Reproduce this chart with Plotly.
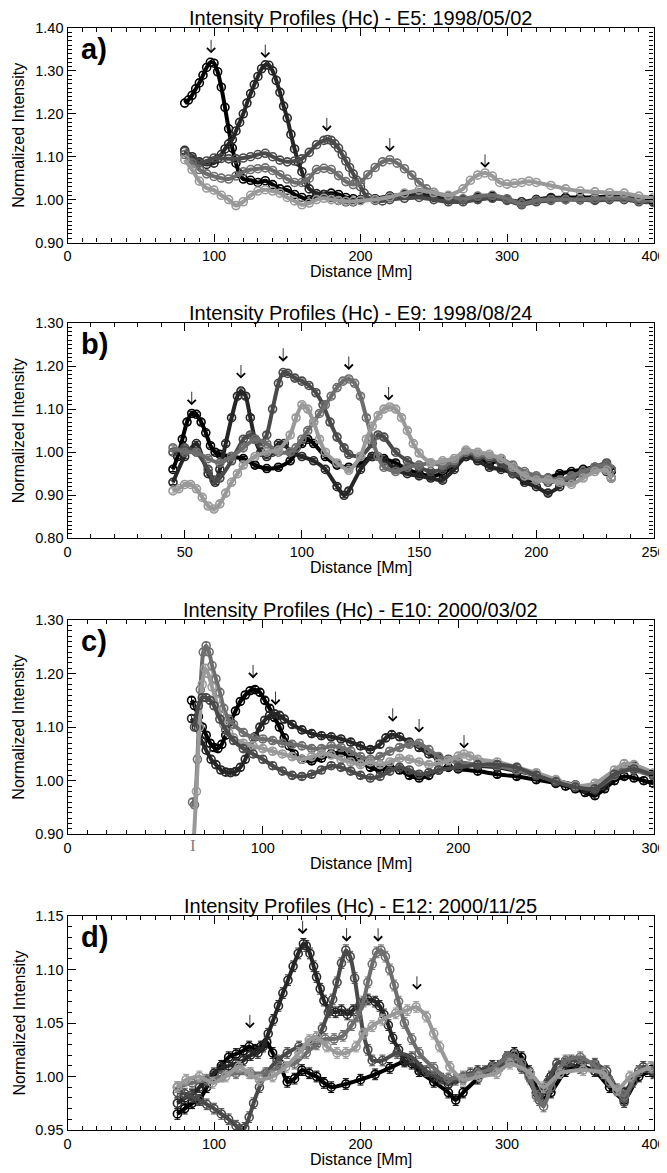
import plotly.graph_objects as go

FONT = 'Liberation Sans, Arial, Helvetica, sans-serif'

#%% Panel a) E5 1998/05/02
a1_x = [80, 82.5, 85, 87.5, 90, 92.5, 95, 97.5, 100, 102.5,
        105, 107.5, 110, 112.5, 115, 117.5, 120, 125, 130, 135,
        140, 145, 150, 155, 160, 165, 170, 175, 180, 185,
        190, 195, 200, 210, 220, 230, 240, 250, 260, 270,
        280, 290, 300, 310, 320, 330, 340, 350, 360, 370,
        380, 390, 400]
a1_y = [1.225, 1.232, 1.243, 1.258, 1.272, 1.290, 1.308, 1.320, 1.318, 1.298,
        1.262, 1.215, 1.165, 1.120, 1.085, 1.060, 1.048, 1.045, 1.040, 1.044,
        1.035, 1.025, 1.022, 1.012, 1.005, 1.000, 1.008, 1.012, 1.015, 1.012,
        1.005, 1.002, 1.000, 1.002, 1.008, 1.012, 1.015, 1.010, 1.000, 1.000,
        1.005, 1.008, 1.000, 0.990, 1.000, 1.003, 1.005, 1.005, 1.005, 1.008,
        1.005, 1.000, 0.995]
a2_x = [80, 85, 90, 95, 100, 102.5, 105, 107.5, 110, 112.5,
        115, 117.5, 120, 122.5, 125, 127.5, 130, 132.5, 135, 137.5,
        140, 142.5, 145, 147.5, 150, 152.5, 155, 157.5, 160, 162.5,
        165, 170, 175, 180, 185, 190, 195, 200, 210, 220,
        230, 240, 250, 260, 270, 280, 290, 300, 310, 320,
        330, 340, 350, 360, 370, 380, 390, 400]
a2_y = [1.115, 1.100, 1.088, 1.082, 1.085, 1.095, 1.105, 1.118, 1.130, 1.140,
        1.160, 1.180, 1.200, 1.225, 1.247, 1.268, 1.287, 1.305, 1.314, 1.313,
        1.300, 1.278, 1.250, 1.218, 1.190, 1.152, 1.118, 1.088, 1.065, 1.040,
        1.025, 1.014, 1.012, 1.005, 0.998, 0.995, 0.995, 0.998, 1.000, 1.005,
        1.010, 1.012, 1.005, 1.000, 1.000, 1.003, 1.005, 1.000, 0.995, 1.000,
        1.005, 1.003, 1.000, 1.000, 1.005, 1.005, 1.000, 0.998]
a3_x = [80, 85, 90, 95, 100, 105, 110, 115, 120, 125,
        130, 135, 140, 145, 150, 155, 160, 165, 170, 175,
        177.5, 180, 182.5, 185, 187.5, 190, 192.5, 195, 197.5, 200,
        202.5, 205, 210, 215, 220, 230, 240, 250, 260, 270,
        280, 290, 300, 310, 320, 330, 340, 350, 360, 370,
        380, 390, 400]
a3_y = [1.112, 1.095, 1.085, 1.090, 1.097, 1.096, 1.095, 1.095, 1.097, 1.100,
        1.105, 1.108, 1.100, 1.092, 1.088, 1.090, 1.095, 1.110, 1.128, 1.138,
        1.140, 1.138, 1.130, 1.120, 1.105, 1.090, 1.075, 1.060, 1.045, 1.030,
        1.015, 1.005, 0.998, 0.997, 1.000, 1.003, 1.005, 1.000, 0.995, 0.995,
        1.000, 1.003, 0.998, 0.988, 0.995, 0.998, 1.000, 1.000, 0.998, 1.000,
        1.000, 0.995, 0.993]
a4_x = [80, 85, 90, 95, 100, 105, 110, 115, 120, 125,
        130, 135, 140, 145, 150, 155, 160, 165, 170, 175,
        180, 185, 190, 195, 200, 205, 210, 215, 220, 225,
        230, 235, 240, 245, 250, 260, 270, 280, 290, 300,
        310, 320, 330, 340, 350, 360, 370, 380, 390, 400]
a4_y = [1.105, 1.085, 1.070, 1.060, 1.054, 1.050, 1.048, 1.055, 1.065, 1.070,
        1.072, 1.074, 1.068, 1.058, 1.048, 1.040, 1.040, 1.050, 1.070, 1.073,
        1.070, 1.056, 1.042, 1.035, 1.040, 1.058, 1.075, 1.088, 1.093, 1.085,
        1.072, 1.057, 1.040, 1.025, 1.017, 1.008, 1.002, 1.008, 1.010, 1.002,
        0.990, 0.998, 1.000, 1.000, 1.000, 1.002, 1.003, 1.004, 0.997, 1.000]
a5_x = [80, 85, 90, 95, 100, 105, 110, 115, 120, 125,
        130, 135, 140, 145, 150, 155, 160, 165, 170, 175,
        180, 185, 190, 195, 200, 210, 220, 230, 240, 250,
        260, 270, 275, 280, 285, 290, 295, 300, 305, 310,
        315, 320, 330, 340, 350, 360, 370, 380, 390, 400]
a5_y = [1.093, 1.070, 1.043, 1.027, 1.022, 1.010, 1.000, 0.986, 0.995, 1.010,
        1.020, 1.023, 1.020, 1.015, 1.005, 0.997, 0.988, 0.992, 1.000, 1.003,
        1.000, 0.998, 0.996, 0.996, 0.998, 1.000, 1.006, 1.015, 1.022, 1.016,
        1.010, 1.025, 1.045, 1.057, 1.062, 1.055, 1.040, 1.036, 1.038, 1.040,
        1.043, 1.040, 1.033, 1.025, 1.020, 1.018, 1.016, 1.015, 1.008, 1.005]
a_arrow_x = [98, 135, 177, 220, 285]
a_arrow_y = [1.341, 1.330, 1.159, 1.112, 1.074]

#%% Panel b) E9 1998/08/24
b1_x = [45, 47, 49, 51, 53, 55, 57, 59, 61, 63,
        65, 70, 75, 80, 85, 90, 95, 100, 102.5, 105,
        110, 115, 120, 125, 130, 135, 140, 145, 150, 155,
        160, 165, 170, 175, 180, 185, 190, 195, 200, 205,
        210, 215, 220, 225, 230, 232]
b1_y = [0.960, 0.990, 1.030, 1.070, 1.090, 1.088, 1.070, 1.045, 1.015, 1.000,
        0.995, 0.990, 0.985, 0.970, 0.962, 0.965, 0.980, 1.020, 1.030, 1.020,
        0.990, 0.970, 0.965, 0.975, 0.990, 0.985, 0.975, 0.960, 0.950, 0.945,
        0.950, 0.970, 0.990, 0.985, 0.975, 0.980, 0.960, 0.935, 0.935, 0.940,
        0.950, 0.955, 0.960, 0.965, 0.970, 0.955]
b2_x = [45, 50, 55, 60, 63, 65, 67.5, 70, 72.5, 74,
        76, 78, 80, 82.5, 85, 87.5, 90, 92.5, 95, 100,
        105, 110, 115, 118, 120, 125, 130, 135, 140, 145,
        150, 155, 160, 165, 170, 175, 180, 185, 190, 195,
        200, 205, 210, 215, 220, 225, 230, 232]
b2_y = [0.930, 0.990, 1.020, 0.950, 0.930, 0.960, 1.020, 1.080, 1.130, 1.142,
        1.130, 1.080, 1.030, 1.000, 0.990, 1.000, 1.020, 1.020, 1.000, 0.990,
        0.980, 0.960, 0.920, 0.900, 0.910, 0.960, 0.990, 0.980, 0.960, 0.950,
        0.945, 0.940, 0.935, 0.960, 0.990, 0.980, 0.965, 0.960, 0.950, 0.930,
        0.920, 0.905, 0.920, 0.940, 0.950, 0.960, 0.955, 0.940]
b3_x = [45, 50, 55, 60, 62.5, 65, 70, 75, 78, 80,
        82.5, 85, 87.5, 90, 92, 94, 97, 100, 103, 106,
        109, 112, 115, 118, 120, 125, 130, 132.5, 135, 140,
        145, 150, 155, 160, 165, 170, 175, 180, 185, 190,
        195, 200, 205, 210, 215, 220, 225, 230, 232]
b3_y = [1.000, 1.010, 1.000, 0.960, 0.935, 0.940, 0.980, 1.030, 1.040, 1.030,
        1.020, 1.040, 1.100, 1.160, 1.185, 1.183, 1.172, 1.165, 1.155, 1.138,
        1.110, 1.070, 1.035, 1.010, 0.995, 0.990, 1.020, 1.040, 1.035, 1.000,
        0.980, 0.965, 0.955, 0.960, 0.975, 1.000, 0.990, 0.985, 0.975, 0.950,
        0.945, 0.940, 0.930, 0.935, 0.940, 0.950, 0.965, 0.975, 0.960]
b4_x = [45, 50, 55, 60, 65, 70, 75, 80, 85, 90,
        95, 97.5, 100, 102.5, 105, 107.5, 110, 112.5, 115, 117.5,
        120, 122.5, 125, 127.5, 130, 132.5, 135, 140, 145, 150,
        155, 160, 165, 170, 175, 180, 185, 190, 195, 200,
        205, 210, 215, 220, 225, 230, 232]
b4_y = [1.010, 1.000, 1.000, 0.985, 0.975, 0.990, 1.010, 1.030, 1.020, 1.000,
        1.000, 1.010, 1.030, 1.050, 1.070, 1.090, 1.110, 1.130, 1.150, 1.165,
        1.170, 1.160, 1.130, 1.080, 1.030, 0.990, 0.965, 0.955, 0.965, 0.970,
        0.975, 0.970, 0.980, 1.000, 0.995, 0.990, 0.985, 0.970, 0.955, 0.945,
        0.940, 0.935, 0.945, 0.955, 0.965, 0.970, 0.960]
b5_x = [45, 47.5, 50, 52.5, 55, 57.5, 60, 62.5, 65, 67.5,
        70, 72.5, 75, 80, 85, 90, 95, 97.5, 100, 102.5,
        105, 107.5, 110, 115, 120, 125, 127.5, 130, 132.5, 135,
        137.5, 140, 142.5, 145, 147.5, 150, 155, 160, 165, 170,
        175, 180, 185, 190, 195, 200, 205, 210, 215, 220,
        225, 230, 232]
b5_y = [0.910, 0.915, 0.925, 0.925, 0.915, 0.895, 0.875, 0.868, 0.880, 0.905,
        0.930, 0.950, 0.970, 0.990, 1.000, 1.005, 1.040, 1.080, 1.110, 1.100,
        1.070, 1.030, 1.000, 0.975, 0.958, 0.990, 1.030, 1.060, 1.085, 1.100,
        1.105, 1.100, 1.080, 1.050, 1.020, 0.998, 0.975, 0.980, 0.985, 1.005,
        1.000, 0.995, 0.985, 0.965, 0.945, 0.935, 0.935, 0.930, 0.925, 0.940,
        0.955, 0.958, 0.940]
b_arrow_x = [53, 74, 92, 120, 137]
b_arrow_y = [1.109, 1.171, 1.210, 1.191, 1.120]

#%% Panel c) E10 2000/03/02
c1_x = [63.5, 65, 67, 69, 71, 73, 75, 77, 79, 81,
        83.5, 86, 88.5, 91, 93.5, 96, 98.5, 101, 103.5, 106,
        108.5, 111, 113.5, 116, 120, 125, 130, 135, 140, 145,
        150, 155, 160, 165, 170, 175, 180, 185, 190, 195,
        200, 210, 220, 230, 240, 250, 255, 260, 265, 270,
        275, 280, 285, 290, 295, 300]
c1_y = [1.150, 1.140, 1.120, 1.100, 1.085, 1.070, 1.062, 1.060, 1.068, 1.085,
        1.110, 1.130, 1.148, 1.160, 1.168, 1.170, 1.165, 1.150, 1.135, 1.118,
        1.100, 1.080, 1.065, 1.050, 1.040, 1.037, 1.042, 1.050, 1.052, 1.045,
        1.035, 1.025, 1.020, 1.025, 1.020, 1.010, 1.005, 1.010, 1.020, 1.025,
        1.022, 1.018, 1.012, 1.008, 1.002, 0.995, 0.990, 0.985, 0.978, 0.972,
        0.985, 1.000, 1.008, 1.005, 1.000, 0.995]
c2_x = [63.5, 66, 68.5, 71, 73.5, 76, 78.5, 81, 83.5, 86,
        88.5, 91, 93.5, 96, 98.5, 101, 103.5, 106, 108.5, 111,
        115, 120, 125, 130, 135, 140, 145, 150, 155, 160,
        163, 166, 170, 175, 180, 185, 190, 195, 200, 210,
        220, 230, 240, 250, 260, 265, 270, 275, 280, 285,
        290, 300]
c2_y = [1.116, 1.100, 1.075, 1.057, 1.040, 1.030, 1.020, 1.016, 1.015, 1.017,
        1.025, 1.040, 1.063, 1.082, 1.100, 1.113, 1.122, 1.125, 1.122, 1.115,
        1.105, 1.095, 1.088, 1.084, 1.082, 1.078, 1.072, 1.065, 1.058, 1.068,
        1.080, 1.086, 1.082, 1.072, 1.062, 1.050, 1.042, 1.040, 1.035, 1.028,
        1.025, 1.018, 1.010, 1.000, 0.992, 0.985, 0.982, 0.990, 1.010, 1.025,
        1.028, 1.012]
c3_x = [64, 65, 66.5, 68, 69.5, 71, 72.5, 74, 76, 78,
        80, 82.5, 85, 90, 95, 100, 105, 110, 115, 120,
        125, 130, 135, 140, 145, 150, 155, 160, 165, 170,
        175, 180, 185, 190, 195, 200, 210, 220, 230, 240,
        250, 260, 270, 280, 285, 290, 300]
c3_y = [0.960, 0.955, 1.040, 1.170, 1.240, 1.252, 1.240, 1.215, 1.190, 1.165,
        1.135, 1.115, 1.105, 1.090, 1.080, 1.078, 1.075, 1.070, 1.068, 1.065,
        1.060, 1.060, 1.065, 1.062, 1.055, 1.045, 1.040, 1.045, 1.055, 1.062,
        1.068, 1.070, 1.058, 1.045, 1.038, 1.035, 1.030, 1.028, 1.020, 1.010,
        1.000, 0.992, 0.985, 1.010, 1.022, 1.020, 1.008]
c4_x = [64.5, 66, 67.5, 69, 70.5, 72, 74, 76, 78, 80,
        82.5, 85, 90, 95, 100, 105, 110, 115, 120, 125,
        130, 135, 140, 145, 150, 155, 160, 165, 170, 175,
        180, 185, 190, 195, 200, 203, 206, 210, 220, 230,
        240, 250, 260, 270, 280, 285, 290, 300]
c4_y = [0.880, 0.980, 1.100, 1.180, 1.210, 1.200, 1.175, 1.150, 1.125, 1.105,
        1.090, 1.080, 1.070, 1.065, 1.060, 1.055, 1.050, 1.045, 1.040, 1.045,
        1.050, 1.048, 1.040, 1.035, 1.030, 1.035, 1.030, 1.035, 1.042, 1.040,
        1.035, 1.030, 1.032, 1.038, 1.046, 1.050, 1.046, 1.040, 1.035, 1.025,
        1.015, 1.002, 0.990, 0.995, 1.020, 1.032, 1.030, 1.015]
c5_x = [65, 67, 69, 71, 73, 75, 78, 81, 85, 90,
        95, 100, 105, 110, 115, 120, 125, 130, 135, 140,
        145, 150, 155, 160, 165, 170, 175, 180, 185, 190,
        200, 210, 220, 230, 240, 250, 260, 270, 280, 290,
        300]
c5_y = [1.100, 1.140, 1.155, 1.155, 1.150, 1.140, 1.115, 1.095, 1.075, 1.060,
        1.050, 1.040, 1.028, 1.018, 1.010, 1.008, 1.012, 1.020, 1.028, 1.025,
        1.018, 1.010, 1.005, 1.008, 1.018, 1.025, 1.020, 1.012, 1.015, 1.020,
        1.025, 1.030, 1.030, 1.025, 1.010, 0.998, 0.988, 0.985, 1.012, 1.022,
        1.010]
c_arrow_x = [95, 106.5, 166.5, 180, 203]
c_arrow_y = [1.191, 1.141, 1.110, 1.090, 1.060]
# typical error bar drawn under the axis
c_errbar_x = 64.3
c_errbar_y = 0.858

#%% Panel d) E12 2000/11/25
d1_x = [75, 80, 85, 90, 95, 100, 105, 110, 115, 120,
        124, 128, 132, 136, 140, 145, 150, 155, 160, 165,
        170, 175, 180, 190, 200, 210, 220, 230, 235, 240,
        250, 260, 265, 270, 280, 290, 300, 305, 310, 315,
        320, 325, 330, 340, 350, 360, 370, 380, 390, 400]
d1_y = [0.965, 0.970, 0.975, 0.978, 0.990, 1.000, 1.010, 1.018, 1.021, 1.024,
        1.028, 1.025, 1.028, 1.032, 1.022, 1.012, 0.995, 0.998, 1.006, 1.003,
        1.000, 0.994, 0.990, 0.993, 0.997, 1.002, 1.008, 1.014, 1.012, 1.005,
        0.995, 0.985, 0.978, 0.985, 0.998, 1.008, 1.018, 1.022, 1.018, 1.005,
        0.990, 0.980, 0.985, 1.005, 1.010, 1.005, 0.990, 0.978, 1.000, 1.005]
d2_x = [75, 80, 85, 90, 95, 100, 105, 110, 115, 120,
        125, 130, 133.5, 137, 140.5, 144, 147, 150.5, 154, 157.5,
        161, 163, 165.5, 168, 170, 172.5, 175, 179, 183, 187,
        191, 195, 200, 205, 210, 213, 216, 219, 222, 226,
        230, 240, 250, 260, 270, 280, 290, 300, 310, 320,
        330, 340, 350, 360, 370, 380, 390, 400]
d2_y = [0.975, 0.980, 0.983, 0.990, 0.995, 1.003, 1.008, 1.010, 1.012, 1.015,
        1.020, 1.022, 1.028, 1.040, 1.053, 1.066, 1.078, 1.090, 1.103, 1.115,
        1.124, 1.122, 1.115, 1.103, 1.093, 1.082, 1.071, 1.062, 1.060, 1.062,
        1.058, 1.062, 1.068, 1.072, 1.070, 1.066, 1.058, 1.048, 1.036, 1.025,
        1.015, 1.008, 1.000, 0.993, 0.998, 1.005, 1.010, 1.015, 1.010, 0.985,
        1.000, 1.012, 1.008, 1.005, 0.995, 0.985, 1.005, 1.003]
d3_x = [75, 80, 85, 90, 95, 100, 105, 110, 115, 118,
        121, 124, 127, 131, 136, 143, 150, 158, 165, 170,
        174, 178, 181, 184, 187, 190, 193, 196, 199, 202,
        205, 208, 215, 225, 235, 245, 255, 265, 275, 285,
        295, 302, 310, 316, 322, 328, 334, 344, 352, 360,
        368, 375, 380, 386, 393, 400]
d3_y = [0.985, 0.984, 0.981, 0.978, 0.974, 0.970, 0.965, 0.960, 0.954, 0.950,
        0.952, 0.962, 0.975, 0.990, 1.003, 1.015, 1.022, 1.028, 1.030, 1.033,
        1.045, 1.060, 1.072, 1.088, 1.106, 1.118, 1.112, 1.092, 1.065, 1.040,
        1.025, 1.015, 1.015, 1.022, 1.018, 1.005, 0.998, 0.997, 1.003, 1.005,
        1.010, 1.015, 1.008, 0.998, 0.978, 0.995, 1.012, 1.015, 1.014, 1.012,
        1.005, 0.988, 0.976, 0.995, 1.009, 1.006]
d4_x = [75, 85, 95, 105, 115, 125, 135, 145, 155, 163,
        170, 176, 182, 188, 194, 198, 202, 205, 208, 211,
        214, 217, 220, 223, 226, 230, 235, 240, 250, 260,
        270, 280, 290, 300, 305, 310, 315, 320, 325, 330,
        340, 350, 360, 370, 380, 390, 400]
d4_y = [0.990, 0.994, 0.997, 1.000, 1.003, 1.003, 1.003, 1.009, 1.012, 1.022,
        1.030, 1.035, 1.035, 1.038, 1.048, 1.056, 1.070, 1.088, 1.105, 1.116,
        1.118, 1.112, 1.100, 1.085, 1.070, 1.050, 1.035, 1.022, 1.008, 0.998,
        1.000, 1.003, 1.008, 1.018, 1.020, 1.012, 1.000, 0.982, 0.972, 0.990,
        1.015, 1.018, 1.010, 0.995, 0.982, 1.005, 1.008]
d5_x = [75, 81, 90, 99, 108, 117, 124, 131, 140, 149,
        158, 165, 170, 177, 184, 190, 197, 202, 208, 215,
        224, 232, 238, 245, 250, 254, 261, 270, 281, 293,
        302, 316, 325, 336, 352, 366, 375, 384, 398]
d5_y = [0.990, 0.997, 1.000, 0.994, 1.000, 1.009, 1.003, 0.997, 1.000, 1.009,
        1.022, 1.034, 1.037, 1.028, 1.022, 1.022, 1.028, 1.040, 1.047, 1.053,
        1.059, 1.062, 1.065, 1.056, 1.040, 1.028, 1.009, 0.997, 1.000, 1.003,
        1.012, 1.003, 0.990, 1.003, 1.006, 1.003, 0.987, 1.000, 1.009]
d_arrow_x = [124.5, 160.5, 190.5, 212, 238.5]
d_arrow_y = [1.045, 1.133, 1.126, 1.126, 1.081]

#%% Styles
greys = ['#000000', '#262626', '#4a4a4a', '#6e6e6e', '#999999']

panels = [
    dict(title='Intensity Profiles (Hc) - E5: 1998/05/02', label='a)',
         series=[(a1_x, a1_y), (a2_x, a2_y), (a3_x, a3_y), (a4_x, a4_y), (a5_x, a5_y)],
         order=[0, 1, 2, 3, 4], err=0.0,
         xr=[0, 400], xd=100, yr=[0.9, 1.4], yd=0.1,
         arrows=(a_arrow_x, a_arrow_y), top=28, bottom=242.5),
    dict(title='Intensity Profiles (Hc) - E9: 1998/08/24', label='b)',
         series=[(b1_x, b1_y), (b2_x, b2_y), (b3_x, b3_y), (b4_x, b4_y), (b5_x, b5_y)],
         order=[0, 1, 2, 3, 4], err=0.005,
         xr=[0, 250], xd=50, yr=[0.8, 1.3], yd=0.1,
         arrows=(b_arrow_x, b_arrow_y), top=323, bottom=538.3),
    dict(title='Intensity Profiles (Hc) - E10: 2000/03/02', label='c)',
         series=[(c1_x, c1_y), (c2_x, c2_y), (c3_x, c3_y), (c4_x, c4_y), (c5_x, c5_y)],
         order=[0, 1, 3, 4, 2], err=0.006,
         xr=[0, 300], xd=100, yr=[0.9, 1.3], yd=0.1,
         arrows=(c_arrow_x, c_arrow_y), top=620, bottom=834.3),
    dict(title='Intensity Profiles (Hc) - E12: 2000/11/25', label='d)',
         series=[(d1_x, d1_y), (d2_x, d2_y), (d3_x, d3_y), (d4_x, d4_y), (d5_x, d5_y)],
         order=[0, 1, 2, 3, 4], err=0.005,
         xr=[0, 400], xd=100, yr=[0.95, 1.15], yd=0.05,
         arrows=(d_arrow_x, d_arrow_y), top=916, bottom=1130),
]

# the page body has an 8px margin, so the figure is made smaller and
# all pixel positions (measured on the full page) are shifted by it
PAD = 8
W, H = 667 - PAD, 1173 - PAD
x_dom = [(67.5 - PAD) / W, (653.5 - PAD) / W]

fig = go.Figure()
layout_axes = {}

for i, p in enumerate(panels):
    k = '' if i == 0 else str(i + 1)
    xn, yn = 'x' + k, 'y' + k

    for (xs, ys), ci in zip(p['series'], p['order']):
        col = greys[ci]
        fig.add_trace(go.Scatter(
            x=xs, y=ys, mode='lines+markers', xaxis=xn, yaxis=yn,
            line=dict(color=col, width=4, shape='spline', smoothing=0.6),
            marker=dict(symbol='circle-open', size=8, color=col,
                        line=dict(width=1.6, color=col)),
            error_y=dict(type='constant', value=p['err'], color=col,
                         thickness=1, width=3, visible=p['err'] > 0),
            showlegend=False, hoverinfo='skip'))

    axis_common = dict(showline=True, linecolor='black', linewidth=1.2, mirror='ticks',
                       ticks='inside', ticklen=8, tickwidth=1, tickcolor='black',
                       showgrid=False, zeroline=False, automargin=False,
                       tickfont=dict(size=14.5, color='black', family=FONT))
    layout_axes['xaxis' + k] = dict(axis_common, domain=x_dom, anchor=yn,
                                    range=p['xr'], tick0=0, dtick=p['xd'],
                                    minor=dict(dtick=10, ticklen=4, ticks='inside',
                                               tickcolor='black', showgrid=False))
    layout_axes['yaxis' + k] = dict(axis_common, anchor=xn,
                                    domain=[1 - (p['bottom'] - PAD) / H,
                                            1 - (p['top'] - PAD) / H],
                                    range=p['yr'], tick0=0, dtick=p['yd'],
                                    tickformat='.2f',
                                    minor=dict(dtick=0.01, ticklen=4, ticks='inside',
                                               tickcolor='black', showgrid=False))

    # peak markers
    for ax_, ay_ in zip(*p['arrows']):
        fig.add_annotation(x=ax_, y=ay_, xref=xn, yref=yn, text='', showarrow=True,
                           arrowhead=4, arrowsize=2, arrowwidth=0.8, arrowcolor='black',
                           ax=0, ay=-15, standoff=0)

    fig.add_annotation(text='<b>' + p['label'] + '</b>', xref=xn + ' domain',
                       yref=yn + ' domain', x=0.02, y=0.985, xanchor='left', yanchor='top',
                       showarrow=False, font=dict(size=29, family=FONT, color='black'))
    fig.add_annotation(text=p['title'], xref=xn + ' domain', yref=yn + ' domain',
                       x=0.5, y=1, xanchor='center', yanchor='bottom', yshift=-3,
                       showarrow=False, font=dict(size=20, family=FONT, color='black'))
    fig.add_annotation(text='Distance [Mm]', xref=xn + ' domain', yref=yn + ' domain',
                       x=0.5, y=0, xanchor='center', yanchor='middle', yshift=-29,
                       showarrow=False, font=dict(size=16, family=FONT, color='black'))
    fig.add_annotation(text='Normalized Intensity', xref='paper', yref=yn + ' domain',
                       x=0, y=0.5, xanchor='left', yanchor='middle', xshift=1,
                       textangle=-90, showarrow=False, borderpad=0,
                       font=dict(size=16, family=FONT, color='black'))

# representative error bar of panel c (below the axis)
c_lo, c_hi = panels[2]['yr']
fig.add_annotation(text='I', xref='x3', yref='y3 domain', x=c_errbar_x,
                   y=(c_errbar_y - c_lo) / (c_hi - c_lo), xanchor='center',
                   showarrow=False,
                   font=dict(size=17, family='Liberation Serif, serif', color='#808080'))

fig.update_layout(width=W, height=H, margin=dict(l=0, r=0, t=0, b=0),
                  paper_bgcolor='white', plot_bgcolor='white',
                  font=dict(family=FONT, color='black'), **layout_axes)

fig.write_html("out.html")
